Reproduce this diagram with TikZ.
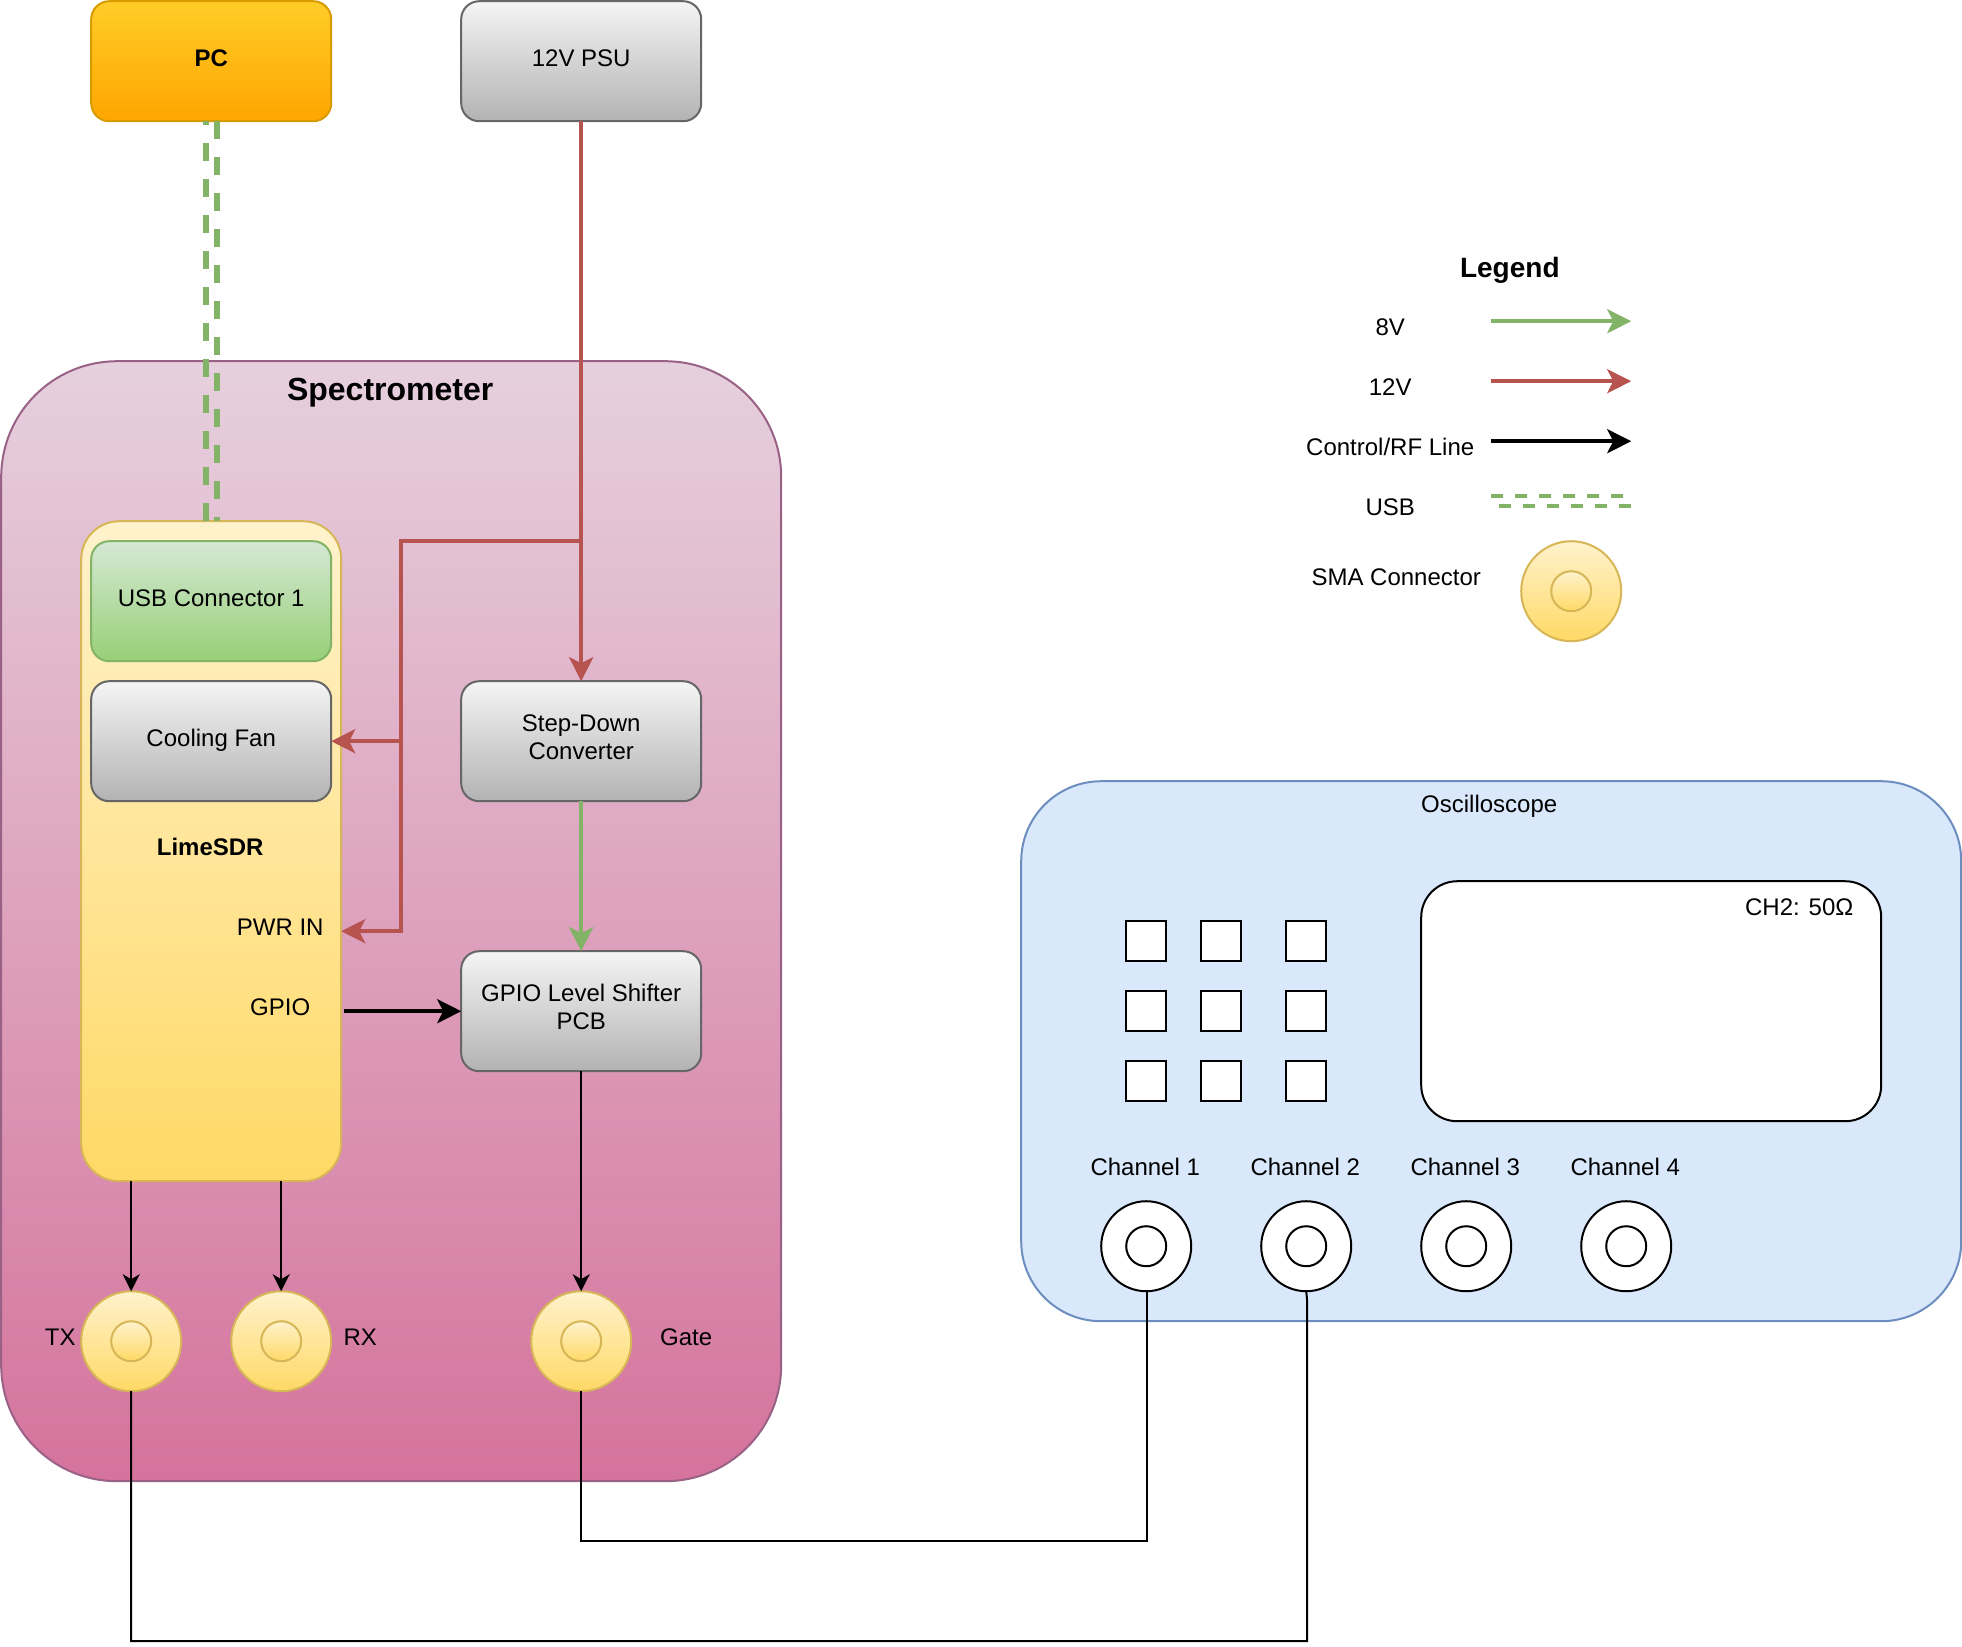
\documentclass[tikz,border=0pt]{standalone}
\usepackage{fontspec}
\setmainfont{Liberation Sans}
\usetikzlibrary{calc, arrows.meta, positioning}

\definecolor{lineRed}{HTML}{B85450}
\definecolor{lineGreen}{HTML}{82B366}
\definecolor{scopeBlue}{HTML}{DAE8FC}
\definecolor{scopeEdge}{HTML}{6C8EBF}

\tikzset{
  txt/.style={font=\fontsize{12}{14}\selectfont, inner sep=0pt, text height=9pt, text depth=1.8pt},
  boldtxt/.style={txt, font=\fontsize{12}{14}\selectfont\bfseries},
  block/.style={draw, line width=1pt, inner sep=0pt, outer sep=0pt, align=center, text depth=4.2pt,
    font=\fontsize{12}{14}\selectfont, minimum width=120pt, minimum height=60pt, rounded corners=9pt},
  oneline/.style={text height=9pt},
  grayblock/.style={block, draw=black!60, top color=black!4, bottom color=black!30},
  sma/.style={circle, draw={rgb,255:red,214;green,182;blue,86}, line width=1pt, inner sep=0pt, outer sep=0pt,
    top color={rgb,255:red,255;green,242;blue,204}, bottom color={rgb,255:red,255;green,217;blue,102}},
  bigsma/.style={sma, minimum size=50pt},
  smallsma/.style={sma, minimum size=20pt},
  knob/.style={draw, fill=white, line width=1pt, inner sep=0pt, outer sep=0pt, minimum size=20pt},
  port/.style={circle, draw, fill=white, line width=1pt, inner sep=0pt, outer sep=0pt, minimum size=45pt},
  portin/.style={circle, draw, fill=white, line width=1pt, inner sep=0pt, outer sep=0pt, minimum size=20pt},
  power/.style={line width=2pt, lineRed, ->},
  eight/.style={line width=2pt, lineGreen, ->},
  ctrl/.style={line width=2pt, black, ->},
  usbline/.style={line width=3pt, lineGreen, dash pattern=on 9pt off 9pt},
  usbkey/.style={line width=2pt, lineGreen, dash pattern=on 6pt off 6pt},
  rf/.style={line width=1pt, black, -{Stealth[length=8.5pt,width=8.5pt,inset=2.5pt]}},
  coax/.style={line width=1pt, black},
}

\begin{document}
\begin{tikzpicture}[x=1pt, y=-1pt, >={Stealth[length=12pt,width=12pt,inset=3pt]}]
    \useasboundingbox (-0.6,-0.6) rectangle (980.4,822.4);

    % --- Spectrometer enclosure ---
    \node[draw={rgb,255:red,153;green,97;blue,133}, line width=1pt, minimum width=390pt, minimum height=560pt, rounded corners=58pt,
      top color={rgb,255:red,230;green,208;blue,222}, bottom color={rgb,255:red,213;green,115;blue,157},
      inner sep=0pt, outer sep=0pt] (spec) at (195,460) {};
    \node[txt, font=\fontsize{16}{18}\selectfont\bfseries] (specTitle) at (194.5,196) {Spectrometer};

    % --- Top level blocks ---
    \node[block, oneline, draw={rgb,255:red,215;green,155;blue,0}, top color={rgb,255:red,255;green,205;blue,40},
      bottom color={rgb,255:red,255;green,165;blue,0}, font=\fontsize{12}{14}\selectfont\bfseries] (pc) at (105,30) {PC};
    \node[grayblock, oneline] (psu) at (290,30) {12V PSU};

    % --- LimeSDR board ---
    \node[sma, rectangle, minimum width=130pt, minimum height=330pt, rounded corners=19pt] (lime) at (105,425) {};
    \node[block, oneline, draw=lineGreen, top color={rgb,255:red,213;green,232;blue,212}, bottom color={rgb,255:red,151;green,208;blue,119}] (usbConn) at (105,300) {USB Connector 1};
    \node[grayblock, oneline] (fan) at (105,370) {Cooling Fan};
    \node[boldtxt] (limeLabel) at (104.5,423.5) {LimeSDR};
    \node[txt] (pwrLabel) at (139.5,463.5) {PWR IN};
    \node[txt] (gpioLabel) at (139.5,503.5) {GPIO};

    % --- Blocks next to the board ---
    \node[grayblock] (stepDown) at (290,370) {Step-Down\\Converter};
    \node[grayblock] (shifter) at (290,505) {GPIO Level Shifter\\PCB};

    % --- SMA connectors on the enclosure ---
    \node[bigsma] (tx) at (65,670) {};
    \node[smallsma] (txIn) at (65,670) {};
    \node[bigsma] (rx) at (140,670) {};
    \node[smallsma] (rxIn) at (140,670) {};
    \node[bigsma] (gate) at (290,670) {};
    \node[smallsma] (gateIn) at (290,670) {};
    \node[txt] (txLabel) at (29.5,668.6) {TX};
    \node[txt] (rxLabel) at (179.5,668.6) {RX};
    \node[txt] (gateLabel) at (342.5,668.6) {Gate};

    % --- Oscilloscope ---
    \node[draw=scopeEdge, fill=scopeBlue, line width=1pt, minimum width=470pt, minimum height=270pt, rounded corners=40pt,
      inner sep=0pt, outer sep=0pt] (scope) at (745,525) {};
    \node[txt] (scopeLabel) at (744,402) {Oscilloscope};
    \node[draw, fill=white, line width=1pt, minimum width=230pt, minimum height=120pt, rounded corners=18pt,
      inner sep=0pt, outer sep=0pt] (screen) at (825,500) {};
    \node[txt] (ohmLabel) at (899,453.5) {CH2: 50Ω};

    \node[knob] (k11) at (572.5,470) {};
    \node[knob] (k12) at (610,470) {};
    \node[knob] (k13) at (652.5,470) {};
    \node[knob] (k21) at (572.5,505) {};
    \node[knob] (k22) at (610,505) {};
    \node[knob] (k23) at (652.5,505) {};
    \node[knob] (k31) at (572.5,540) {};
    \node[knob] (k32) at (610,540) {};
    \node[knob] (k33) at (652.5,540) {};

    \node[txt] (chOneLabel) at (572,583.5) {Channel 1};
    \node[txt] (chTwoLabel) at (652,583.5) {Channel 2};
    \node[txt] (chThreeLabel) at (732,583.5) {Channel 3};
    \node[txt] (chFourLabel) at (812,583.5) {Channel 4};
    \node[port] (chOne) at (572.5,622.5) {};
    \node[portin] (chOneIn) at (572.5,622.5) {};
    \node[port] (chTwo) at (652.5,622.5) {};
    \node[portin] (chTwoIn) at (652.5,622.5) {};
    \node[port] (chThree) at (732.5,622.5) {};
    \node[portin] (chThreeIn) at (732.5,622.5) {};
    \node[port] (chFour) at (812.5,622.5) {};
    \node[portin] (chFourIn) at (812.5,622.5) {};

    % --- USB cable ---
    \draw[usbline, dash phase=7pt] ([xshift=-2.5pt]pc.south) -- ([xshift=-2.5pt]lime.north);
    \draw[usbline] ([xshift=3pt]pc.south) -- ([xshift=3pt]lime.north);

    % --- 12V rail ---
    \coordinate (railTee) at (290,270);
    \coordinate (railLeft) at (200,270);
    \coordinate (railPwr) at (200,465);
    \draw[power] (psu.south) -- (stepDown.north);
    \draw[power] (railTee) -- (railLeft) -- (railPwr) -- (lime.east |- railPwr);
    \draw[power] (railLeft |- fan.east) -- (fan.east);

    % --- 8V and control ---
    \draw[eight] (stepDown.south) -- (shifter.north);
    \draw[ctrl] ([xshift=1.5pt]lime.east |- shifter.west) -- (shifter.west);

    % --- RF lines ---
    \draw[rf] (lime.south -| tx.north) -- (tx.north);
    \draw[rf] (lime.south -| rx.north) -- (rx.north);
    \draw[rf] (shifter.south) -- (gate.north);

    % --- Cables to the oscilloscope ---
    \coordinate (gateBend) at (290,770);
    \coordinate (chOneBend) at (573,770);
    \coordinate (txBend) at (65,820);
    \coordinate (chTwoBend) at (653,820);
    \coordinate (chTwoKink) at (653,650);
    \draw[coax] (gate.south) -- (gateBend) -- (chOneBend) -- (chOne.south -| chOneBend);
    \draw[coax] (tx.south) -- (txBend) -- (chTwoBend) -- (chTwoKink) -- (chTwo.south);

    % --- Legend ---
    \node[txt, font=\fontsize{14}{16}\selectfont\bfseries] (legendTitle) at (754.3,134.6) {Legend};
    \node[txt] (legendEight) at (694.5,163.5) {8V};
    \node[txt] (legendTwelve) at (694.5,193.5) {12V};
    \node[txt] (legendCtrl) at (694.5,223.5) {Control/RF Line};
    \node[txt] (legendUsb) at (694.5,253.5) {USB};
    \node[txt] (legendSma) at (697.5,288.5) {SMA Connector};
    \coordinate (eightA) at (745,160);
    \coordinate (eightB) at (815,160);
    \coordinate (twelveA) at (745,190);
    \coordinate (twelveB) at (815,190);
    \coordinate (ctrlA) at (745,220);
    \coordinate (ctrlB) at (815,220);
    \coordinate (usbTopA) at (745,247.5);
    \coordinate (usbTopB) at (811,247.5);
    \coordinate (usbLowA) at (749,252.5);
    \coordinate (usbLowB) at (815,252.5);
    \draw[eight] (eightA) -- (eightB);
    \draw[power] (twelveA) -- (twelveB);
    \draw[ctrl] (ctrlA) -- (ctrlB);
    \draw[usbkey] (usbTopA) -- (usbTopB);
    \draw[usbkey] (usbLowA) -- (usbLowB);
    \node[bigsma] (legendOuter) at (785,295) {};
    \node[smallsma] (legendInner) at (785,295) {};
\end{tikzpicture}
\end{document}
